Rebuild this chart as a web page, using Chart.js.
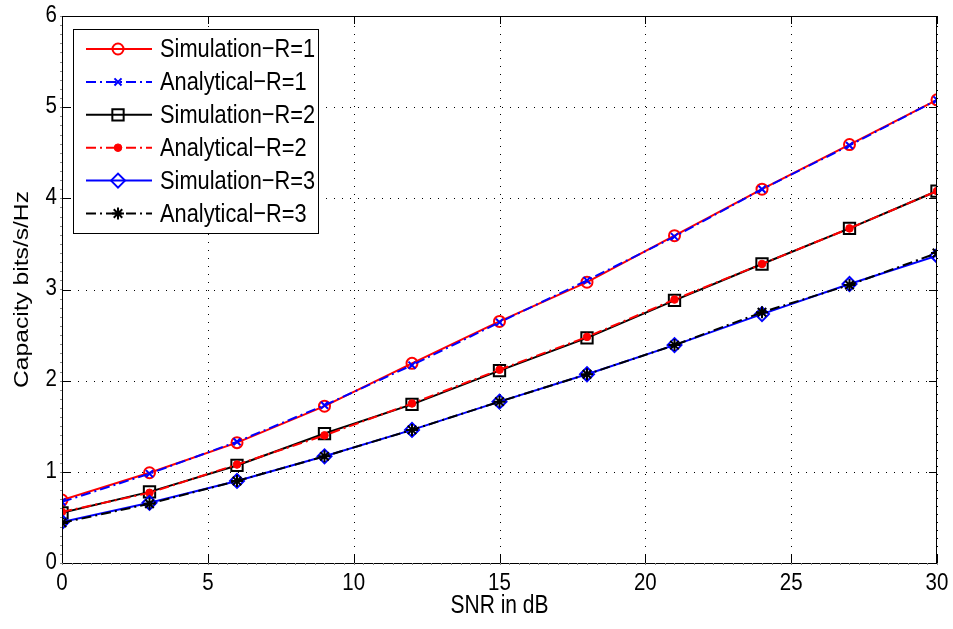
<!DOCTYPE html>
<html>
<head>
<meta charset="utf-8">
<script src="https://cdn.jsdelivr.net/npm/chart.js@4.4.1/dist/chart.umd.min.js"></script>
<style>
  html, body { margin: 0; padding: 0; background: #fff; }
  #wrap { width: 953px; height: 629px; }
</style>
</head>
<body>
<div id="wrap"><canvas id="grafico"></canvas></div>
<script>
// SNR (dB) on the x axis
const snr = [0, 3, 6, 9, 12, 15, 18, 21, 24, 27, 30];
const xTicks = [0, 5, 10, 15, 20, 25, 30];
const yTicks = [0, 1, 2, 3, 4, 5, 6];

// capacity, bits/s/Hz
const simR1 = [0.69, 0.99, 1.32, 1.72, 2.19, 2.65, 3.08, 3.59, 4.10, 4.59, 5.08];
const anaR1 = [0.67, 0.98, 1.33, 1.73, 2.17, 2.64, 3.10, 3.58, 4.10, 4.58, 5.08];
const simR2 = [0.55, 0.78, 1.07, 1.42, 1.74, 2.11, 2.47, 2.88, 3.28, 3.67, 4.08];
const anaR2 = [0.56, 0.77, 1.08, 1.40, 1.75, 2.12, 2.48, 2.89, 3.28, 3.67, 4.08];
const simR3 = [0.45, 0.66, 0.90, 1.17, 1.46, 1.77, 2.07, 2.39, 2.73, 3.06, 3.37];
const anaR3 = [0.44, 0.65, 0.90, 1.17, 1.46, 1.77, 2.07, 2.39, 2.75, 3.05, 3.40];

const labels = ['Simulation\u2212R=1', 'Analytical\u2212R=1', 'Simulation\u2212R=2',
                'Analytical\u2212R=2', 'Simulation\u2212R=3', 'Analytical\u2212R=3'];
const xTitle = 'SNR in dB';
const yTitle = 'Capacity bits/s/Hz';

const FONT = '"Liberation Sans", Arial, Helvetica, sans-serif';
const STRETCH = 1.2;   // text in the original is taller than wide
const dashDot = [10, 4, 2, 4];

function serie(i, vals, color, style, radius, fill, dash) {
  return {
    label: labels[i],
    data: snr.map((x, k) => ({ x: x, y: vals[k] })),
    borderColor: color,
    backgroundColor: fill ? color : 'rgba(0,0,0,0)',
    pointBorderColor: color,
    pointBackgroundColor: fill ? color : 'rgba(0,0,0,0)',
    borderWidth: 2,
    borderDash: dash || [],
    pointStyle: style,
    pointRadius: radius,
    pointBorderWidth: fill ? 1 : 2,
    pointHoverRadius: radius,
    tension: 0,
    fill: false,
    order: 6 - i
  };
}

const datasets = [
  serie(0, simR1, '#ff0000', 'circle', 5.5, false),
  serie(1, anaR1, '#0000ff', 'crossRot', 5, false, dashDot),
  serie(2, simR2, '#000000', 'rect', 8, false),
  serie(3, anaR2, '#ff0000', 'circle', 3.8, true, dashDot),
  serie(4, simR3, '#0000ff', 'rectRot', 7, false),
  serie(5, anaR3, '#000000', 'star', 6, false, dashDot)
];

function texto(ctx, str, x, y, size, align) {
  ctx.save();
  ctx.translate(x, y);
  ctx.scale(1, STRETCH);
  ctx.font = size + 'px ' + FONT;
  ctx.textAlign = align;
  ctx.textBaseline = 'middle';
  ctx.fillStyle = '#000';
  ctx.fillText(str, 0, 0);
  ctx.restore();
}

function drawMarca(ctx, ds, x, y) {
  ctx.save();
  ctx.fillStyle = ds.pointBackgroundColor;
  ctx.strokeStyle = ds.pointBorderColor;
  ctx.lineWidth = ds.pointBorderWidth;
  Chart.helpers.drawPoint(ctx, { pointStyle: ds.pointStyle, radius: ds.pointRadius, borderWidth: ds.pointBorderWidth, rotation: 0 }, x, y);
  ctx.restore();
}

// dotted grid under the lines
const gridPlugin = {
  id: 'rejilla',
  beforeDatasetsDraw(chart) {
    const ctx = chart.ctx, a = chart.chartArea;
    const xs = chart.scales.x, ys = chart.scales.y;
    ctx.save();
    ctx.strokeStyle = '#000';
    ctx.lineWidth = 1;
    ctx.setLineDash([1, 7]);
    ctx.beginPath();
    xTicks.forEach(t => {
      const px = Math.round(xs.getPixelForValue(t)) + 0.5;
      ctx.moveTo(px, a.bottom); ctx.lineTo(px, a.top);
    });
    yTicks.forEach(t => {
      const py = Math.round(ys.getPixelForValue(t)) + 0.5;
      ctx.moveTo(a.left, py); ctx.lineTo(a.right, py);
    });
    ctx.stroke();
    ctx.restore();
  }
};

// box, inward ticks, labels and legend
const marcoPlugin = {
  id: 'marco',
  afterDraw(chart) {
    const ctx = chart.ctx;
    const a = chart.chartArea;
    const xs = chart.scales.x, ys = chart.scales.y;
    ctx.save();
    ctx.strokeStyle = '#000';
    ctx.lineWidth = 1;
    ctx.setLineDash([]);
    ctx.strokeRect(Math.round(a.left) + 0.5, Math.round(a.top) + 0.5,
                   Math.round(a.right - a.left) - 1, Math.round(a.bottom - a.top));
    ctx.beginPath();
    xTicks.forEach(t => {
      const px = Math.round(xs.getPixelForValue(t)) + 0.5;
      ctx.moveTo(px, a.bottom); ctx.lineTo(px, a.bottom - 8);
      ctx.moveTo(px, a.top); ctx.lineTo(px, a.top + 8);
    });
    yTicks.forEach(t => {
      const py = Math.round(ys.getPixelForValue(t)) + 0.5;
      ctx.moveTo(a.left, py); ctx.lineTo(a.left + 8, py);
      ctx.moveTo(a.right, py); ctx.lineTo(a.right - 8, py);
    });
    ctx.stroke();

    // faint small marks along the outer axes
    ctx.strokeStyle = '#888';
    ctx.beginPath();
    for (let v = 0; v <= 30.001; v += 1 / 3) {
      const px = Math.round(xs.getPixelForValue(v)) + 0.5;
      ctx.moveTo(px, a.bottom); ctx.lineTo(px, a.bottom + 2);
    }
    for (let v = 0; v <= 6.001; v += 0.1) {
      const py = Math.round(ys.getPixelForValue(v)) + 0.5;
      ctx.moveTo(a.left, py); ctx.lineTo(a.left - 2, py);
    }
    ctx.stroke();

    // tick labels and x title
    xTicks.forEach(t => texto(ctx, String(t), xs.getPixelForValue(t), a.bottom + 20, 20.5, 'center'));
    yTicks.forEach(t => texto(ctx, String(t), a.left - 5, ys.getPixelForValue(t) - 1, 20.5, 'right'));
    texto(ctx, xTitle, (a.left + a.right) / 2, a.bottom + 43, 21, 'center');

    // y title, rotated, stretched along the text
    ctx.save();
    ctx.translate(22, (a.top + a.bottom) / 2);
    ctx.rotate(-Math.PI / 2);
    ctx.scale(STRETCH, 1);
    ctx.font = '20.5px ' + FONT;
    ctx.textAlign = 'center';
    ctx.textBaseline = 'middle';
    ctx.fillStyle = '#000';
    ctx.fillText(yTitle, 0, 0);
    ctx.restore();
    ctx.restore();

    // legend
    ctx.save();
    const lx = 73, ly = 29, lw = 245, lh = 204;
    ctx.fillStyle = '#fff';
    ctx.fillRect(lx, ly, lw, lh);
    ctx.strokeStyle = '#000';
    ctx.lineWidth = 1;
    ctx.strokeRect(lx + 0.5, ly + 0.5, lw, lh);
    chart.data.datasets.forEach((ds, i) => {
      const y = 49 + i * 32.9;
      ctx.strokeStyle = ds.borderColor;
      ctx.lineWidth = 2;
      ctx.setLineDash(ds.borderDash);
      ctx.beginPath();
      ctx.moveTo(86, y); ctx.lineTo(152, y);
      ctx.stroke();
      ctx.setLineDash([]);
      drawMarca(ctx, ds, 118, y);
      texto(ctx, ds.label, 160, y + 1, 21.8, 'left');
    });
    ctx.restore();
  }
};

new Chart(document.getElementById('grafico'), {
  type: 'line',
  data: { datasets: datasets },
  plugins: [gridPlugin, marcoPlugin],
  options: {
    responsive: true,
    maintainAspectRatio: false,
    animation: false,
    layout: { padding: { top: 16, right: 16, left: 0, bottom: 0 } },
    plugins: { legend: { display: false }, tooltip: { enabled: false } },
    scales: {
      x: {
        type: 'linear',
        min: 0, max: 30,
        afterBuildTicks(s) { s.ticks = xTicks.map(v => ({ value: v })); },
        afterFit(s) { s.height = 66; },
        grid: { display: false },
        border: { display: false },
        ticks: { display: false }
      },
      y: {
        type: 'linear',
        min: 0, max: 6,
        afterBuildTicks(s) { s.ticks = yTicks.map(v => ({ value: v })); },
        afterFit(s) { s.width = 62; },
        grid: { display: false },
        border: { display: false },
        ticks: { display: false }
      }
    }
  }
});
</script>
</body>
</html>
